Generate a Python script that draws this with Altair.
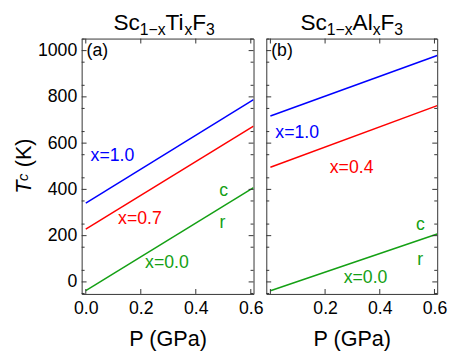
import altair as alt
import pandas as pd

# ---------------- data ----------------
P_ends = [0.0, 0.61]

a_names = ["x=1.0", "x=0.7", "x=0.0"]
a_T = [[341, 788], [228, 673], [-38, 408]]

b_names = ["x=1.0", "x=0.4", "x=0.0"]
b_T = [[717, 979], [496, 762], [-38, 207]]

colors = ["#0000ff", "#ff0000", "#14a014"]

# annotation labels: text, P, T (baseline), color index
a_lab_text = ["x=1.0", "x=0.7", "x=0.0", "c", "r"]
a_lab_P = [0.097, 0.197, 0.295, 0.501, 0.497]
a_lab_T = [521, 252, 61, 372, 232]
a_lab_col = [0, 1, 2, 2, 2]

b_lab_text = ["x=1.0", "x=0.4", "x=0.0", "c", "r"]
b_lab_P = [0.098, 0.297, 0.348, 0.549, 0.548]
b_lab_T = [624, 469, -3, 224, 72]
b_lab_col = [0, 1, 2, 2, 2]

y_major = [0, 200, 400, 600, 800, 1000]
y_minor = [-50, 50, 150, 250, 350, 450, 550, 650, 750, 850, 950, 1050]
x_major = [0.0, 0.2, 0.4, 0.6]
xa_labels = [0.0, 0.2, 0.4, 0.6]
xb_labels = [0.2, 0.4, 0.6]

X_DOMAIN = [-0.015, 0.61]
Y_DOMAIN = [-52, 1052]

FONT = "Liberation Sans"
FRAME = "#333333"
WA, WB, H = 175, 174, 260

xs = alt.Scale(domain=X_DOMAIN, nice=False, zero=False)
ys = alt.Scale(domain=Y_DOMAIN, nice=False, zero=False)

# Arial advance widths (em)
ADV = {"S": .667, "c": .5, "T": .611, "i": .222, "A": .667, "l": .222, "F": .611,
       "1": .556, "3": .556, "x": .5, "\u2212": .584}


def tw(s, size):
    return sum(ADV[ch] for ch in s) * size


def title_layers(pieces, center):
    big, small = 23, 16
    total = sum(tw(t, small if sub else big) for t, sub in pieces)
    x = center - total / 2
    layers = []
    for t, sub in pieces:
        size = small if sub else big
        layers.append(
            alt.Chart(pd.DataFrame({"s": [t]})).mark_text(
                font=FONT, fontSize=size, align="left", baseline="alphabetic", color="black"
            ).encode(text="s:N", x=alt.value(x), y=alt.value(-4 if sub else -9))
        )
        x += tw(t, size)
    return layers


def tick_layers(W):
    out = []
    ymaj = pd.DataFrame({"v": y_major})
    ymin = pd.DataFrame({"v": y_minor})
    xmaj = pd.DataFrame({"v": x_major})
    for df, ln in ((ymaj, 5), (ymin, 3)):
        out.append(alt.Chart(df).mark_rule(color=FRAME, strokeWidth=1).encode(
            y=alt.Y("v:Q", scale=ys), x=alt.value(0), x2=alt.value(ln)))
        out.append(alt.Chart(df).mark_rule(color=FRAME, strokeWidth=1).encode(
            y=alt.Y("v:Q", scale=ys), x=alt.value(W), x2=alt.value(W - ln)))
    out.append(alt.Chart(xmaj).mark_rule(color=FRAME, strokeWidth=1).encode(
        x=alt.X("v:Q", scale=xs), y=alt.value(H), y2=alt.value(H - 5)))
    out.append(alt.Chart(xmaj).mark_rule(color=FRAME, strokeWidth=1).encode(
        x=alt.X("v:Q", scale=xs), y=alt.value(0), y2=alt.value(5)))
    return out


def panel(names, T, lab_text, lab_P, lab_T, lab_col, tag, pieces, W, x_labels, show_y, tcenter):
    rows = []
    for n, tv, c in zip(names, T, colors):
        for p, t in zip(P_ends, tv):
            rows.append({"P": p, "T": t, "series": n, "col": c})
    ldf = pd.DataFrame(rows)
    yaxis = alt.Axis(values=y_major, format="d", labelFontSize=18, labelFont=FONT, labelColor="black",
                     ticks=False, domain=False, grid=False, title=None, labelPadding=5) if show_y else None
    lines = alt.Chart(ldf).mark_line(strokeWidth=1.5, clip=True).encode(
        x=alt.X("P:Q", scale=xs, axis=alt.Axis(values=x_labels, format=".1f", labelFontSize=18,
                labelFont=FONT, labelColor="black", ticks=False, domain=False, grid=False,
                labelPadding=6, title="P (GPa)", titleFont=FONT, titleFontSize=22,
                titleFontWeight="normal", titleColor="black", titlePadding=11)),
        y=alt.Y("T:Q", scale=ys, axis=yaxis),
        color=alt.Color("col:N", scale=None),
        detail="series:N",
    )
    tdf = pd.DataFrame({"txt": lab_text, "P": lab_P, "T": lab_T,
                        "col": [colors[i] for i in lab_col]})
    labels = alt.Chart(tdf).mark_text(font=FONT, fontSize=18, baseline="alphabetic", align="center").encode(
        x=alt.X("P:Q", scale=xs), y=alt.Y("T:Q", scale=ys), text="txt:N",
        color=alt.Color("col:N", scale=None))
    tagm = alt.Chart(pd.DataFrame({"s": [tag]})).mark_text(
        font=FONT, fontSize=18, align="left", baseline="alphabetic", color="black"
    ).encode(text="s:N", x=alt.value(5), y=alt.value(18))
    layers = [lines, labels, tagm] + tick_layers(W) + title_layers(pieces, tcenter)
    if show_y:
        ytitle = [
            alt.Chart(pd.DataFrame({"s": ["T"]})).mark_text(
                font=FONT, fontSize=22, fontStyle="italic", angle=270, align="left",
                baseline="alphabetic", color="black").encode(text="s:N", x=alt.value(-52), y=alt.value(158)),
            alt.Chart(pd.DataFrame({"s": ["c"]})).mark_text(
                font=FONT, fontSize=15, fontStyle="italic", angle=270, align="left",
                baseline="alphabetic", color="black").encode(text="s:N", x=alt.value(-55), y=alt.value(145)),
            alt.Chart(pd.DataFrame({"s": ["(K)"]})).mark_text(
                font=FONT, fontSize=22, angle=270, align="left",
                baseline="alphabetic", color="black").encode(text="s:N", x=alt.value(-52), y=alt.value(131)),
        ]
        layers += ytitle
    return alt.layer(*layers).properties(width=W, height=H)


pa = panel(a_names, a_T, a_lab_text, a_lab_P, a_lab_T, a_lab_col, "(a)",
           [("Sc", False), ("1\u2212x", True), ("Ti", False), ("x", True), ("F", False), ("3", True)],
           WA, xa_labels, True, 84)
pb = panel(b_names, b_T, b_lab_text, b_lab_P, b_lab_T, b_lab_col, "(b)",
           [("Sc", False), ("1\u2212x", True), ("Al", False), ("x", True), ("F", False), ("3", True)],
           WB, xb_labels, False, 87)

chart = alt.hconcat(pa, pb, spacing=13, bounds="flush").configure_view(
    stroke=FRAME, strokeWidth=1
).properties(padding={"left": 4, "top": 0, "right": 0, "bottom": 0}, background="white")

chart.save("out.html", embed_options={"renderer": "svg", "actions": False})
